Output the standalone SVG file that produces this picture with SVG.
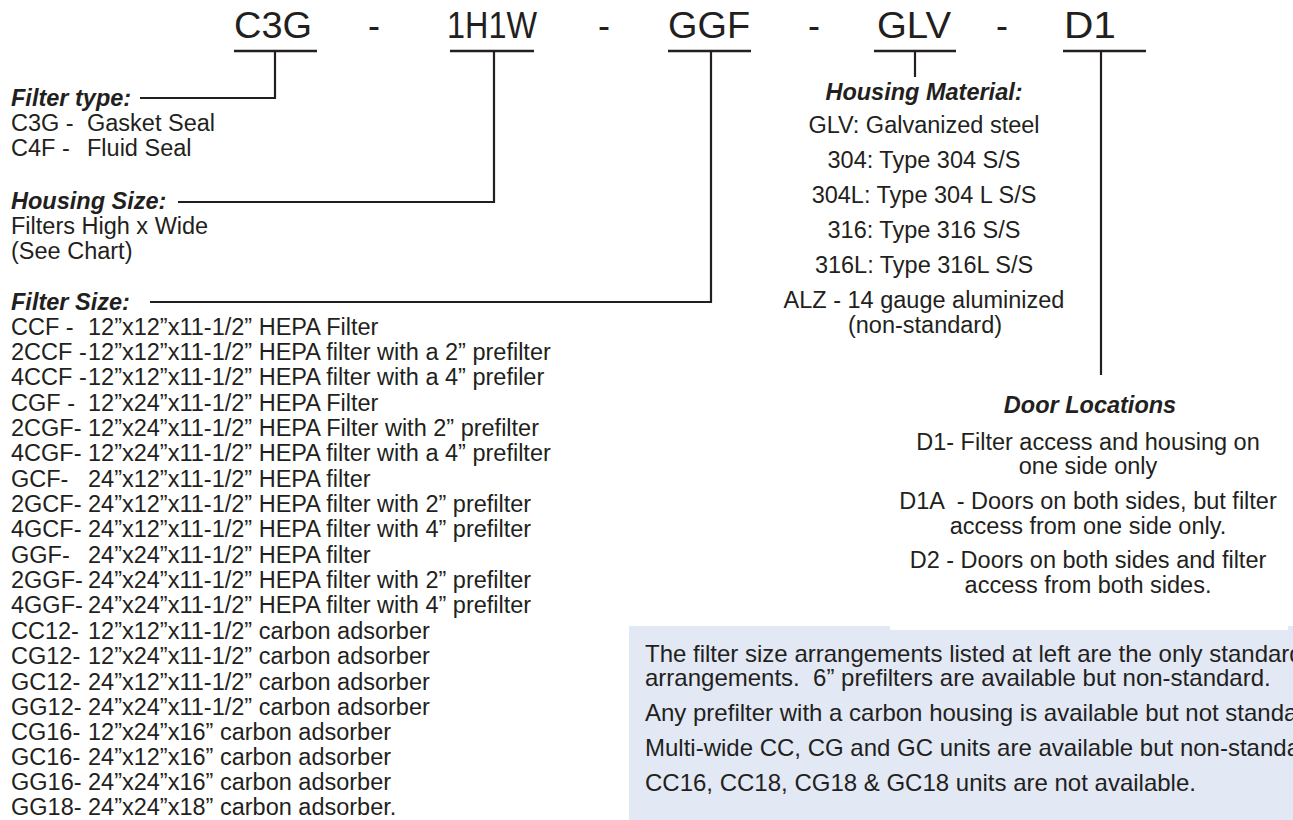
<svg xmlns="http://www.w3.org/2000/svg" width="1293" height="820" viewBox="0 0 1293 820">
<style>
text{font-family:"Liberation Sans",Arial,Helvetica,sans-serif;fill:#231f20;white-space:pre}
.hd{font-size:36px}
.t{font-size:23.5px}
.bx{font-size:24px}
.lb{font-size:23.5px;font-weight:bold;font-style:italic}
.c{text-anchor:middle}
.ln{stroke:#231f20;stroke-width:2.2;fill:none}
.ul{stroke:#231f20;stroke-width:2.6;fill:none}
</style>
<rect width="1293" height="820" fill="#ffffff"/>

<g id="connectors">
  <line class="ul" x1="234" y1="51" x2="317" y2="51"/>
  <line class="ul" x1="450" y1="51" x2="534" y2="51"/>
  <line class="ul" x1="668" y1="51" x2="751" y2="51"/>
  <line class="ul" x1="874" y1="51" x2="956" y2="51"/>
  <line class="ul" x1="1063" y1="51" x2="1146" y2="51"/>
  <polyline class="ln" points="275,51 275,98 140,98"/>
  <polyline class="ln" points="494,51 494,202 178,202"/>
  <polyline class="ln" points="711,51 711,302 150,302"/>
  <line class="ln" x1="915" y1="51" x2="915" y2="77"/>
  <line class="ln" x1="1101" y1="51" x2="1101" y2="375"/>
</g>

<g id="code-header">
  <text class="hd" x="234" y="38" textLength="78" lengthAdjust="spacingAndGlyphs">C3G</text>
  <text class="hd c" x="374" y="38">-</text>
  <text class="hd" x="447" y="38" textLength="90" lengthAdjust="spacingAndGlyphs">1H1W</text>
  <text class="hd c" x="604" y="38">-</text>
  <text class="hd" x="668" y="38" textLength="82" lengthAdjust="spacingAndGlyphs">GGF</text>
  <text class="hd c" x="814" y="38">-</text>
  <text class="hd" x="877" y="38" textLength="74" lengthAdjust="spacingAndGlyphs">GLV</text>
  <text class="hd c" x="1002" y="38">-</text>
  <text class="hd" x="1064" y="38" textLength="52" lengthAdjust="spacingAndGlyphs">D1</text>
</g>

<g id="filter-type">
  <text class="lb" x="11" y="106">Filter type:</text>
  <text class="t" x="11" y="131">C3G -<tspan x="87">Gasket Seal</tspan></text>
  <text class="t" x="11" y="156">C4F -<tspan x="87">Fluid Seal</tspan></text>
</g>

<g id="housing-size">
  <text class="lb" x="11" y="209">Housing Size:</text>
  <text class="t" x="11" y="234">Filters High x Wide</text>
  <text class="t" x="11" y="259">(See Chart)</text>
</g>

<g id="filter-size">
  <text class="lb" x="11" y="310">Filter Size:</text>
  <text class="t" x="11" y="335">CCF -<tspan x="88">12”x12”x11-1/2” HEPA Filter</tspan></text>
  <text class="t" x="11" y="360">2CCF -<tspan x="88">12”x12”x11-1/2” HEPA filter with a 2” prefilter</tspan></text>
  <text class="t" x="11" y="385">4CCF -<tspan x="88">12”x12”x11-1/2” HEPA filter with a 4” prefiler</tspan></text>
  <text class="t" x="11" y="411">CGF -<tspan x="88">12”x24”x11-1/2” HEPA Filter</tspan></text>
  <text class="t" x="11" y="436">2CGF-<tspan x="88">12”x24”x11-1/2” HEPA Filter with 2” prefilter</tspan></text>
  <text class="t" x="11" y="461">4CGF-<tspan x="88">12”x24”x11-1/2” HEPA filter with a 4” prefilter</tspan></text>
  <text class="t" x="11" y="487">GCF-<tspan x="88">24”x12”x11-1/2” HEPA filter</tspan></text>
  <text class="t" x="11" y="512">2GCF-<tspan x="88">24”x12”x11-1/2” HEPA filter with 2” prefilter</tspan></text>
  <text class="t" x="11" y="537">4GCF-<tspan x="88">24”x12”x11-1/2” HEPA filter with 4” prefilter</tspan></text>
  <text class="t" x="11" y="563">GGF-<tspan x="88">24”x24”x11-1/2” HEPA filter</tspan></text>
  <text class="t" x="11" y="588">2GGF-<tspan x="88">24”x24”x11-1/2” HEPA filter with 2” prefilter</tspan></text>
  <text class="t" x="11" y="613">4GGF-<tspan x="88">24”x24”x11-1/2” HEPA filter with 4” prefilter</tspan></text>
  <text class="t" x="11" y="639">CC12-<tspan x="88">12”x12”x11-1/2” carbon adsorber</tspan></text>
  <text class="t" x="11" y="664">CG12-<tspan x="88">12”x24”x11-1/2” carbon adsorber</tspan></text>
  <text class="t" x="11" y="690">GC12-<tspan x="88">24”x12”x11-1/2” carbon adsorber</tspan></text>
  <text class="t" x="11" y="715">GG12-<tspan x="88">24”x24”x11-1/2” carbon adsorber</tspan></text>
  <text class="t" x="11" y="740">CG16-<tspan x="88">12”x24”x16” carbon adsorber</tspan></text>
  <text class="t" x="11" y="765">GC16-<tspan x="88">24”x12”x16” carbon adsorber</tspan></text>
  <text class="t" x="11" y="790">GG16-<tspan x="88">24”x24”x16” carbon adsorber</tspan></text>
  <text class="t" x="11" y="815">GG18-<tspan x="88">24”x24”x18” carbon adsorber.</tspan></text>
</g>

<g id="housing-material">
  <text class="lb c" x="924" y="100">Housing Material:</text>
  <text class="t c" x="924" y="133">GLV: Galvanized steel</text>
  <text class="t c" x="924" y="168">304: Type 304 S/S</text>
  <text class="t c" x="924" y="203">304L: Type 304 L S/S</text>
  <text class="t c" x="924" y="238">316: Type 316 S/S</text>
  <text class="t c" x="924" y="273">316L: Type 316L S/S</text>
  <text class="t c" x="924" y="308">ALZ - 14 gauge aluminized</text>
  <text class="t c" x="925" y="333">(non-standard)</text>
</g>

<g id="door-locations">
  <text class="lb c" x="1090" y="413">Door Locations</text>
  <text class="t c" x="1088" y="450">D1- Filter access and housing on</text>
  <text class="t c" x="1088" y="474">one side only</text>
  <text class="t c" x="1088" y="509">D1A  - Doors on both sides, but filter</text>
  <text class="t c" x="1088" y="534">access from one side only.</text>
  <text class="t c" x="1088" y="568">D2 - Doors on both sides and filter</text>
  <text class="t c" x="1088" y="593">access from both sides.</text>
</g>

<g id="notes-box">
  <rect x="629" y="626" width="664" height="194" fill="#e2e8f4"/>
  <rect x="890" y="626" width="398" height="4" fill="#ffffff"/>
  <text class="bx" x="645" y="662">The filter size arrangements listed at left are the only standard</text>
  <text class="bx" x="645" y="686">arrangements.  6” prefilters are available but non-standard.</text>
  <text class="bx" x="645" y="721">Any prefilter with a carbon housing is available but not standard.</text>
  <text class="bx" x="645" y="756">Multi-wide CC, CG and GC units are available but non-standard.</text>
  <text class="bx" x="645" y="791">CC16, CC18, CG18 &amp; GC18 units are not available.</text>
</g>
</svg>
